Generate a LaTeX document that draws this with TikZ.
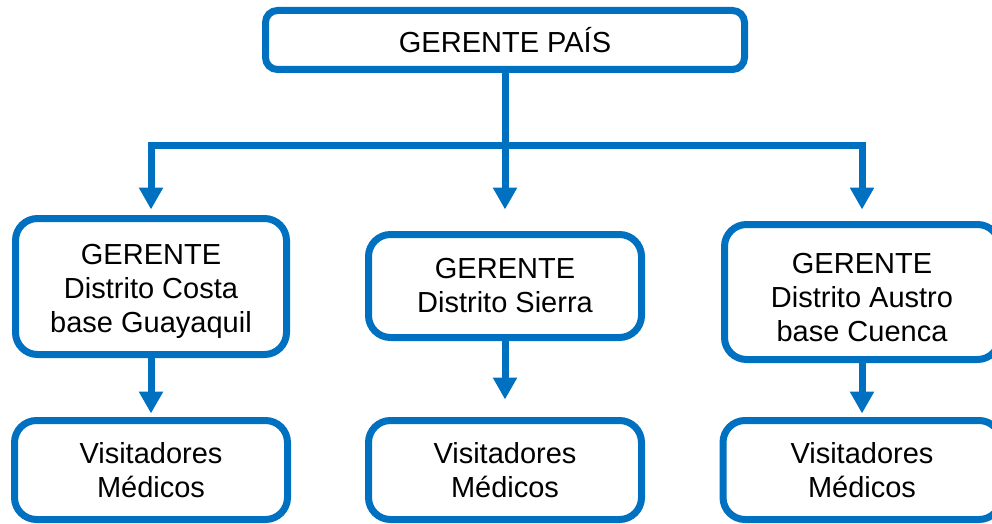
\documentclass[tikz,border=0pt]{standalone}
\usepackage{fontspec}
\setmainfont{Liberation Sans}
\usetikzlibrary{arrows.meta}
\definecolor{orgblue}{HTML}{0070C0}
\newcommand{\toppad}{\rule{0pt}{31pt}}

\begin{document}
\begin{tikzpicture}[x=1pt, y=-1pt,
	box/.style={draw=orgblue, line width=7pt, rounded corners=#1, fill=white, align=center, inner sep=0pt, font=\fontsize{29}{34}\selectfont},
	box/.default=22pt,
	link/.style={draw=orgblue, line width=7pt},
	arr/.style={link, -{Triangle[width=23pt,length=22pt]}}]
	\useasboundingbox (0,0) rectangle (992,524);
	\node[box=12pt, minimum width=479pt, minimum height=59pt] (pais) at (505,40) {GERENTE PAÍS};
	\node[box, minimum width=271pt, minimum height=136pt] (costa) at (151,286.5) {\toppad GERENTE\\Distrito Costa\\base Guayaquil};
	\node[box, minimum width=273pt, minimum height=103pt] (sierra) at (505,286) {GERENTE\\Distrito Sierra};
	\node[box, minimum width=275pt, minimum height=135pt] (austro) at (862,292) {\toppad GERENTE\\Distrito Austro\\base Cuenca};
	\node[box, minimum width=273pt, minimum height=99pt] (visC) at (151,470) {Visitadores\\Médicos};
	\node[box, minimum width=273pt, minimum height=99pt] (visS) at (505,470) {Visitadores\\Médicos};
	\node[box, minimum width=278pt, minimum height=99pt] (visA) at (862,470) {Visitadores\\Médicos};
	\coordinate (busM) at (505,145);
	\draw [link] (pais.south) -- (busM);
	\draw [arr, shorten >=5.5pt] (busM) -| (costa.north);
	\draw [arr, shorten >=21.5pt] (busM) -- (sierra.north);
	\draw [arr, shorten >=11.5pt] (busM) -| (austro.north);
	\draw [arr, shorten >=3.5pt] (costa.south) -- (visC.north);
	\draw [arr, shorten >=17.5pt] (sierra.south) -- (visS.north);
	\draw [arr, shorten >=3.5pt] (austro.south) -- (visA.north);
\end{tikzpicture}
\end{document}
